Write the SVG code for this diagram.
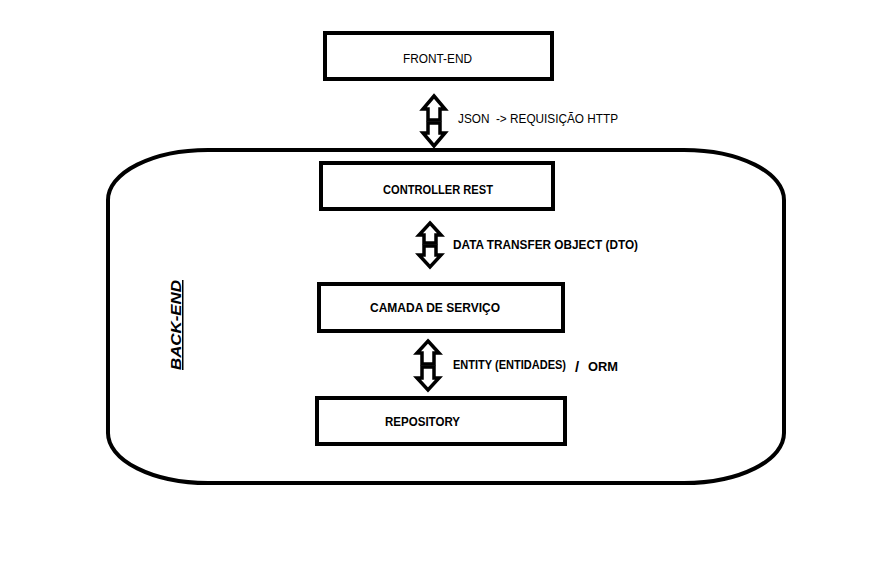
<svg xmlns="http://www.w3.org/2000/svg" width="886" height="575" viewBox="0 0 886 575">
<style>
.box{fill:#fff;stroke:#000;stroke-width:4}
.arr{fill:#fff;stroke:#000;stroke-width:3.5;stroke-linejoin:miter}
text{font-family:"Liberation Sans",Arial,sans-serif;fill:#000}
.b{font-weight:bold;font-size:12px}
.r{font-size:12px}
</style>
<rect width="886" height="575" fill="#fff"/>
<g id="backend">
<rect x="108" y="150" width="676" height="333" rx="100" ry="50" fill="none" stroke="#000" stroke-width="4"/>
<text transform="translate(181,325) rotate(-90)" text-anchor="middle" font-size="15" font-weight="bold" font-style="italic" text-decoration="underline" textLength="90" lengthAdjust="spacingAndGlyphs">BACK-END</text>
</g>
<g id="frontend">
<rect class="box" x="325" y="33" width="227" height="46"/>
<text class="r" x="403" y="63" textLength="69" lengthAdjust="spacingAndGlyphs">FRONT-END</text>
</g>
<g id="controller">
<rect class="box" x="321" y="163" width="232" height="46"/>
<text class="b" x="383" y="194" textLength="110" lengthAdjust="spacingAndGlyphs">CONTROLLER REST</text>
</g>
<g id="servico">
<rect class="box" x="319" y="284" width="244" height="47"/>
<text class="b" x="370" y="312" textLength="130" lengthAdjust="spacingAndGlyphs">CAMADA DE SERVIÇO</text>
</g>
<g id="repository">
<rect class="box" x="317" y="398" width="248" height="46"/>
<text class="b" x="385" y="426" textLength="75" lengthAdjust="spacingAndGlyphs">REPOSITORY</text>
</g>
<g id="connectors">
<path class="arr" d="M434,96 L445,109 L440,109 L440,120 L428,120 L428,109 L423,109 Z"/>
<path class="arr" d="M428,123 L440,123 L440,133 L445,133 L434,146 L423,133 L428,133 Z"/>
<text class="r" x="458" y="123" textLength="160" lengthAdjust="spacingAndGlyphs" xml:space="preserve">JSON  -&gt; REQUISIÇÃO HTTP</text>
<path class="arr" d="M430,223 L441,235 L436,235 L436,243 L424,243 L424,235 L419,235 Z"/>
<path class="arr" d="M424,246 L436,246 L436,255 L441,255 L430,267 L419,255 L424,255 Z"/>
<text class="b" x="453" y="249" textLength="185" lengthAdjust="spacingAndGlyphs">DATA TRANSFER OBJECT (DTO)</text>
<path class="arr" d="M428,341 L439,353 L434,353 L434,364 L422,364 L422,353 L417,353 Z"/>
<path class="arr" d="M422,367 L434,367 L434,378 L439,378 L428,390 L417,378 L422,378 Z"/>
<text class="b" x="453" y="369" textLength="113" lengthAdjust="spacingAndGlyphs">ENTITY (ENTIDADES)</text>
<text x="575" y="372" font-size="15" font-weight="bold">/</text>
<text class="b" x="588" y="371" font-size="13" textLength="30" lengthAdjust="spacingAndGlyphs">ORM</text>
</g>
</svg>
